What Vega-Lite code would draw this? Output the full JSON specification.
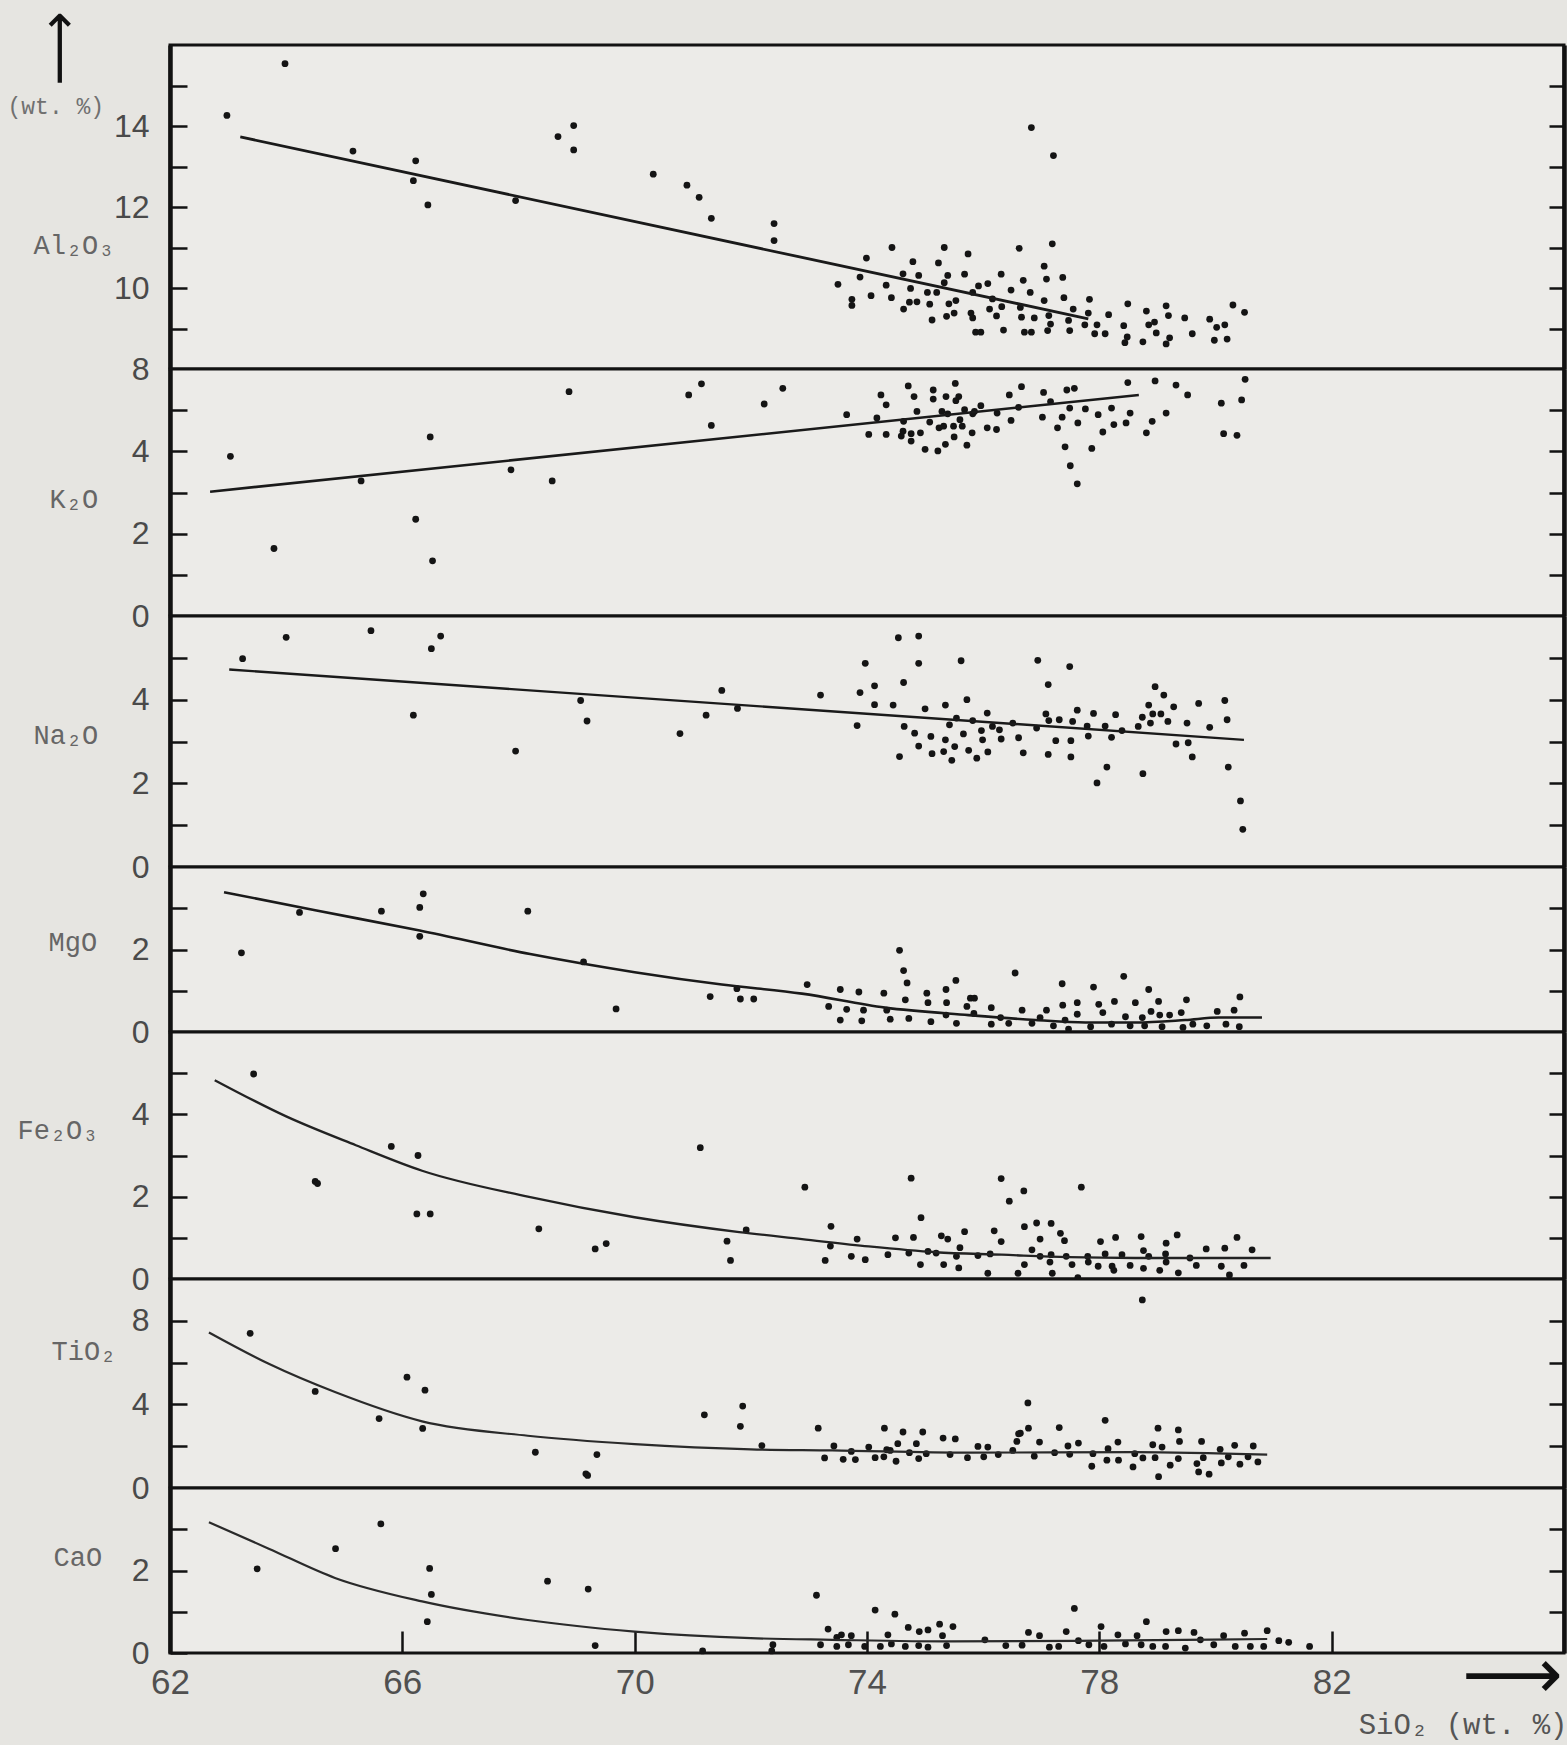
{
"$schema": "https://vega.github.io/schema/vega-lite/v6.json",
"background": "#e6e5e1",
"padding": {"left": 5, "top": 9, "right": 2, "bottom": 4},
"spacing": 0,
"bounds": "flush",
"datasets": {
"pts": [
{"ox":"Al2O3","si":62.98,"v":14.26},{"ox":"Al2O3","si":63.98,"v":15.54},{"ox":"Al2O3","si":65.15,"v":13.38},{"ox":"Al2O3","si":66.23,"v":13.14},{"ox":"Al2O3","si":66.19,"v":12.65},{"ox":"Al2O3","si":66.44,"v":12.05},{"ox":"Al2O3","si":67.95,"v":12.16},{"ox":"Al2O3","si":68.68,"v":13.74},{"ox":"Al2O3","si":68.95,"v":14.01},{"ox":"Al2O3","si":68.95,"v":13.41},{"ox":"Al2O3","si":70.32,"v":12.81},{"ox":"Al2O3","si":70.9,"v":12.54},{"ox":"Al2O3","si":71.11,"v":12.24},{"ox":"Al2O3","si":71.32,"v":11.72},{"ox":"Al2O3","si":72.4,"v":11.59},{"ox":"Al2O3","si":72.4,"v":11.17},{"ox":"Al2O3","si":76.83,"v":13.96},{"ox":"Al2O3","si":77.21,"v":13.27},
{"ox":"Al2O3","si":73.5,"v":10.09},{"ox":"Al2O3","si":73.74,"v":9.72},{"ox":"Al2O3","si":73.74,"v":9.57},{"ox":"Al2O3","si":73.88,"v":10.27},{"ox":"Al2O3","si":73.99,"v":10.74},{"ox":"Al2O3","si":74.07,"v":9.81},{"ox":"Al2O3","si":74.33,"v":10.07},{"ox":"Al2O3","si":74.42,"v":9.76},{"ox":"Al2O3","si":74.43,"v":11.0},{"ox":"Al2O3","si":74.62,"v":10.35},{"ox":"Al2O3","si":74.63,"v":9.48},{"ox":"Al2O3","si":74.73,"v":9.65},{"ox":"Al2O3","si":74.75,"v":9.99},{"ox":"Al2O3","si":74.79,"v":10.65},{"ox":"Al2O3","si":74.86,"v":9.66},{"ox":"Al2O3","si":74.89,"v":10.31},{"ox":"Al2O3","si":75.04,"v":9.89},{"ox":"Al2O3","si":75.08,"v":9.6},{"ox":"Al2O3","si":75.12,"v":9.21},{"ox":"Al2O3","si":75.2,"v":9.89},{"ox":"Al2O3","si":75.23,"v":10.62},{"ox":"Al2O3","si":75.33,"v":11.0},{"ox":"Al2O3","si":75.33,"v":10.13},{"ox":"Al2O3","si":75.37,"v":9.3},{"ox":"Al2O3","si":75.39,"v":10.31},{"ox":"Al2O3","si":75.41,"v":9.61},{"ox":"Al2O3","si":75.5,"v":9.38},{"ox":"Al2O3","si":75.53,"v":9.69},{"ox":"Al2O3","si":75.68,"v":10.34},{"ox":"Al2O3","si":75.74,"v":10.84},{"ox":"Al2O3","si":75.79,"v":9.38},{"ox":"Al2O3","si":75.82,"v":9.89},{"ox":"Al2O3","si":75.82,"v":9.26},{"ox":"Al2O3","si":75.87,"v":8.91},{"ox":"Al2O3","si":75.92,"v":10.05},{"ox":"Al2O3","si":75.96,"v":8.91},{"ox":"Al2O3","si":76.08,"v":10.11},{"ox":"Al2O3","si":76.11,"v":9.48},{"ox":"Al2O3","si":76.16,"v":9.73},{"ox":"Al2O3","si":76.23,"v":9.31},{"ox":"Al2O3","si":76.31,"v":10.34},{"ox":"Al2O3","si":76.32,"v":9.54},{"ox":"Al2O3","si":76.35,"v":8.96},{"ox":"Al2O3","si":76.48,"v":9.95},{"ox":"Al2O3","si":76.62,"v":10.98},{"ox":"Al2O3","si":76.64,"v":9.52},{"ox":"Al2O3","si":76.66,"v":9.28},{"ox":"Al2O3","si":76.69,"v":10.19},{"ox":"Al2O3","si":76.71,"v":8.91},{"ox":"Al2O3","si":76.81,"v":9.89},{"ox":"Al2O3","si":76.83,"v":8.91},{"ox":"Al2O3","si":76.88,"v":9.26},{"ox":"Al2O3","si":77.05,"v":10.54},{"ox":"Al2O3","si":77.05,"v":9.69},{"ox":"Al2O3","si":77.09,"v":10.22},{"ox":"Al2O3","si":77.11,"v":8.95},{"ox":"Al2O3","si":77.13,"v":9.32},{"ox":"Al2O3","si":77.16,"v":9.11},{"ox":"Al2O3","si":77.19,"v":11.09},{"ox":"Al2O3","si":77.37,"v":10.26},{"ox":"Al2O3","si":77.39,"v":9.76},{"ox":"Al2O3","si":77.47,"v":9.2},{"ox":"Al2O3","si":77.49,"v":8.95},{"ox":"Al2O3","si":77.55,"v":9.48},{"ox":"Al2O3","si":77.75,"v":9.09},{"ox":"Al2O3","si":77.81,"v":9.38},{"ox":"Al2O3","si":77.83,"v":9.72},{"ox":"Al2O3","si":77.92,"v":8.87},{"ox":"Al2O3","si":77.96,"v":9.09},{"ox":"Al2O3","si":78.1,"v":8.87},{"ox":"Al2O3","si":78.16,"v":9.34},{"ox":"Al2O3","si":78.42,"v":9.07},{"ox":"Al2O3","si":78.44,"v":8.65},{"ox":"Al2O3","si":78.48,"v":8.79},{"ox":"Al2O3","si":78.49,"v":9.61},{"ox":"Al2O3","si":78.75,"v":8.67},{"ox":"Al2O3","si":78.81,"v":9.43},{"ox":"Al2O3","si":78.85,"v":9.09},{"ox":"Al2O3","si":78.95,"v":9.16},{"ox":"Al2O3","si":78.98,"v":8.89},{"ox":"Al2O3","si":79.15,"v":8.62},{"ox":"Al2O3","si":79.15,"v":9.56},{"ox":"Al2O3","si":79.19,"v":9.32},{"ox":"Al2O3","si":79.21,"v":8.77},{"ox":"Al2O3","si":79.47,"v":9.26},{"ox":"Al2O3","si":79.6,"v":8.87},{"ox":"Al2O3","si":79.9,"v":9.23},{"ox":"Al2O3","si":79.98,"v":8.71},{"ox":"Al2O3","si":80.02,"v":9.03},{"ox":"Al2O3","si":80.16,"v":9.09},{"ox":"Al2O3","si":80.2,"v":8.74},{"ox":"Al2O3","si":80.3,"v":9.58},{"ox":"Al2O3","si":80.5,"v":9.4},
{"ox":"K2O","si":63.04,"v":3.88},{"ox":"K2O","si":63.79,"v":1.64},{"ox":"K2O","si":65.29,"v":3.28},{"ox":"K2O","si":66.23,"v":2.35},{"ox":"K2O","si":66.48,"v":4.35},{"ox":"K2O","si":66.52,"v":1.34},{"ox":"K2O","si":67.87,"v":3.55},{"ox":"K2O","si":68.58,"v":3.28},{"ox":"K2O","si":68.87,"v":5.45},{"ox":"K2O","si":70.93,"v":5.37},{"ox":"K2O","si":71.15,"v":5.64},{"ox":"K2O","si":71.32,"v":4.63},{"ox":"K2O","si":72.23,"v":5.15},{"ox":"K2O","si":72.55,"v":5.53},
{"ox":"K2O","si":73.65,"v":4.89},{"ox":"K2O","si":74.03,"v":4.41},{"ox":"K2O","si":74.17,"v":4.81},{"ox":"K2O","si":74.24,"v":5.37},{"ox":"K2O","si":74.33,"v":5.13},{"ox":"K2O","si":74.33,"v":4.41},{"ox":"K2O","si":74.59,"v":4.37},{"ox":"K2O","si":74.62,"v":4.49},{"ox":"K2O","si":74.63,"v":4.73},{"ox":"K2O","si":74.71,"v":5.59},{"ox":"K2O","si":74.76,"v":4.43},{"ox":"K2O","si":74.76,"v":4.25},{"ox":"K2O","si":74.81,"v":5.33},{"ox":"K2O","si":74.86,"v":4.97},{"ox":"K2O","si":74.92,"v":4.45},{"ox":"K2O","si":75.0,"v":4.05},{"ox":"K2O","si":75.08,"v":4.71},{"ox":"K2O","si":75.14,"v":5.49},{"ox":"K2O","si":75.14,"v":5.27},{"ox":"K2O","si":75.22,"v":4.01},{"ox":"K2O","si":75.24,"v":4.57},{"ox":"K2O","si":75.29,"v":4.97},{"ox":"K2O","si":75.32,"v":4.61},{"ox":"K2O","si":75.35,"v":4.17},{"ox":"K2O","si":75.36,"v":5.33},{"ox":"K2O","si":75.39,"v":4.91},{"ox":"K2O","si":75.49,"v":4.61},{"ox":"K2O","si":75.5,"v":4.35},{"ox":"K2O","si":75.52,"v":5.65},{"ox":"K2O","si":75.53,"v":5.23},{"ox":"K2O","si":75.58,"v":5.33},{"ox":"K2O","si":75.6,"v":4.77},{"ox":"K2O","si":75.64,"v":4.61},{"ox":"K2O","si":75.68,"v":5.01},{"ox":"K2O","si":75.72,"v":4.15},{"ox":"K2O","si":75.81,"v":4.45},{"ox":"K2O","si":75.82,"v":4.91},{"ox":"K2O","si":75.85,"v":4.97},{"ox":"K2O","si":75.96,"v":5.11},{"ox":"K2O","si":76.07,"v":4.57},{"ox":"K2O","si":76.23,"v":4.53},{"ox":"K2O","si":76.24,"v":4.93},{"ox":"K2O","si":76.45,"v":5.37},{"ox":"K2O","si":76.48,"v":4.75},{"ox":"K2O","si":76.61,"v":5.07},{"ox":"K2O","si":76.66,"v":5.57},{"ox":"K2O","si":77.02,"v":4.83},{"ox":"K2O","si":77.04,"v":5.43},{"ox":"K2O","si":77.16,"v":5.21},{"ox":"K2O","si":77.28,"v":4.57},{"ox":"K2O","si":77.36,"v":4.83},{"ox":"K2O","si":77.41,"v":4.11},{"ox":"K2O","si":77.44,"v":5.49},{"ox":"K2O","si":77.49,"v":5.05},{"ox":"K2O","si":77.5,"v":3.65},{"ox":"K2O","si":77.57,"v":5.53},{"ox":"K2O","si":77.62,"v":3.21},{"ox":"K2O","si":77.63,"v":4.69},{"ox":"K2O","si":77.76,"v":5.03},{"ox":"K2O","si":77.87,"v":4.07},{"ox":"K2O","si":77.98,"v":4.89},{"ox":"K2O","si":78.06,"v":4.47},{"ox":"K2O","si":78.21,"v":5.05},{"ox":"K2O","si":78.25,"v":4.65},{"ox":"K2O","si":78.46,"v":4.69},{"ox":"K2O","si":78.49,"v":5.67},{"ox":"K2O","si":78.53,"v":4.93},{"ox":"K2O","si":78.81,"v":4.45},{"ox":"K2O","si":78.91,"v":4.73},{"ox":"K2O","si":78.96,"v":5.71},{"ox":"K2O","si":79.15,"v":4.93},{"ox":"K2O","si":79.32,"v":5.61},{"ox":"K2O","si":79.52,"v":5.37},{"ox":"K2O","si":80.1,"v":5.17},{"ox":"K2O","si":80.14,"v":4.43},{"ox":"K2O","si":80.37,"v":4.39},{"ox":"K2O","si":80.45,"v":5.25},{"ox":"K2O","si":80.51,"v":5.75},
{"ox":"Na2O","si":63.25,"v":4.98},{"ox":"Na2O","si":64.0,"v":5.49},{"ox":"Na2O","si":65.46,"v":5.65},{"ox":"Na2O","si":66.19,"v":3.63},{"ox":"Na2O","si":66.5,"v":5.22},{"ox":"Na2O","si":66.66,"v":5.52},{"ox":"Na2O","si":67.95,"v":2.77},{"ox":"Na2O","si":69.07,"v":3.98},{"ox":"Na2O","si":69.18,"v":3.49},{"ox":"Na2O","si":70.78,"v":3.19},{"ox":"Na2O","si":71.23,"v":3.63},{"ox":"Na2O","si":71.5,"v":4.22},{"ox":"Na2O","si":71.77,"v":3.79},
{"ox":"Na2O","si":73.2,"v":4.11},{"ox":"Na2O","si":73.83,"v":3.38},{"ox":"Na2O","si":73.88,"v":4.17},{"ox":"Na2O","si":73.97,"v":4.87},{"ox":"Na2O","si":74.13,"v":3.88},{"ox":"Na2O","si":74.13,"v":4.33},{"ox":"Na2O","si":74.45,"v":3.87},{"ox":"Na2O","si":74.54,"v":5.48},{"ox":"Na2O","si":74.56,"v":2.64},{"ox":"Na2O","si":74.63,"v":4.41},{"ox":"Na2O","si":74.64,"v":3.36},{"ox":"Na2O","si":74.82,"v":3.2},{"ox":"Na2O","si":74.89,"v":5.52},{"ox":"Na2O","si":74.89,"v":4.87},{"ox":"Na2O","si":74.89,"v":2.89},{"ox":"Na2O","si":75.0,"v":3.78},{"ox":"Na2O","si":75.1,"v":3.12},{"ox":"Na2O","si":75.12,"v":2.71},{"ox":"Na2O","si":75.32,"v":2.76},{"ox":"Na2O","si":75.35,"v":3.87},{"ox":"Na2O","si":75.35,"v":3.04},{"ox":"Na2O","si":75.42,"v":3.4},{"ox":"Na2O","si":75.46,"v":2.55},{"ox":"Na2O","si":75.51,"v":2.88},{"ox":"Na2O","si":75.54,"v":3.56},{"ox":"Na2O","si":75.62,"v":4.93},{"ox":"Na2O","si":75.66,"v":3.18},{"ox":"Na2O","si":75.72,"v":4.0},{"ox":"Na2O","si":75.75,"v":2.79},{"ox":"Na2O","si":75.82,"v":3.5},{"ox":"Na2O","si":75.89,"v":2.6},{"ox":"Na2O","si":75.97,"v":3.26},{"ox":"Na2O","si":75.99,"v":3.04},{"ox":"Na2O","si":76.07,"v":3.68},{"ox":"Na2O","si":76.08,"v":2.75},{"ox":"Na2O","si":76.16,"v":3.36},{"ox":"Na2O","si":76.28,"v":3.28},{"ox":"Na2O","si":76.31,"v":3.06},{"ox":"Na2O","si":76.51,"v":3.44},{"ox":"Na2O","si":76.61,"v":3.09},{"ox":"Na2O","si":76.69,"v":2.73},{"ox":"Na2O","si":76.92,"v":3.32},{"ox":"Na2O","si":76.94,"v":4.94},{"ox":"Na2O","si":77.08,"v":3.66},{"ox":"Na2O","si":77.12,"v":4.36},{"ox":"Na2O","si":77.13,"v":3.5},{"ox":"Na2O","si":77.12,"v":2.69},{"ox":"Na2O","si":77.25,"v":3.02},{"ox":"Na2O","si":77.31,"v":3.52},{"ox":"Na2O","si":77.49,"v":4.79},{"ox":"Na2O","si":77.51,"v":3.02},{"ox":"Na2O","si":77.51,"v":2.63},{"ox":"Na2O","si":77.54,"v":3.48},{"ox":"Na2O","si":77.62,"v":3.75},{"ox":"Na2O","si":77.79,"v":3.37},{"ox":"Na2O","si":77.81,"v":3.13},{"ox":"Na2O","si":77.9,"v":3.67},{"ox":"Na2O","si":77.96,"v":2.01},{"ox":"Na2O","si":78.1,"v":3.37},{"ox":"Na2O","si":78.13,"v":2.39},{"ox":"Na2O","si":78.21,"v":3.1},{"ox":"Na2O","si":78.28,"v":3.64},{"ox":"Na2O","si":78.39,"v":3.26},{"ox":"Na2O","si":78.67,"v":3.36},{"ox":"Na2O","si":78.74,"v":3.58},{"ox":"Na2O","si":78.75,"v":2.23},{"ox":"Na2O","si":78.85,"v":3.87},{"ox":"Na2O","si":78.88,"v":3.44},{"ox":"Na2O","si":78.92,"v":3.66},{"ox":"Na2O","si":78.96,"v":4.31},{"ox":"Na2O","si":79.06,"v":3.66},{"ox":"Na2O","si":79.11,"v":4.11},{"ox":"Na2O","si":79.18,"v":3.48},{"ox":"Na2O","si":79.28,"v":3.83},{"ox":"Na2O","si":79.32,"v":2.94},{"ox":"Na2O","si":79.51,"v":3.44},{"ox":"Na2O","si":79.53,"v":2.97},{"ox":"Na2O","si":79.6,"v":2.63},{"ox":"Na2O","si":79.71,"v":3.91},{"ox":"Na2O","si":79.9,"v":3.34},{"ox":"Na2O","si":80.16,"v":3.98},{"ox":"Na2O","si":80.2,"v":3.52},{"ox":"Na2O","si":80.22,"v":2.39},{"ox":"Na2O","si":80.43,"v":1.58},{"ox":"Na2O","si":80.47,"v":0.9},
{"ox":"MgO","si":63.23,"v":1.92},{"ox":"MgO","si":64.23,"v":2.9},{"ox":"MgO","si":65.64,"v":2.93},{"ox":"MgO","si":66.3,"v":2.32},{"ox":"MgO","si":66.3,"v":3.02},{"ox":"MgO","si":66.36,"v":3.35},{"ox":"MgO","si":68.16,"v":2.93},{"ox":"MgO","si":69.12,"v":1.7},{"ox":"MgO","si":69.68,"v":0.56},{"ox":"MgO","si":71.3,"v":0.86},{"ox":"MgO","si":71.76,"v":1.05},{"ox":"MgO","si":71.82,"v":0.8},{"ox":"MgO","si":72.05,"v":0.8},
{"ox":"MgO","si":72.97,"v":1.15},{"ox":"MgO","si":73.34,"v":0.62},{"ox":"MgO","si":73.54,"v":1.03},{"ox":"MgO","si":73.54,"v":0.29},{"ox":"MgO","si":73.65,"v":0.55},{"ox":"MgO","si":73.86,"v":0.97},{"ox":"MgO","si":73.91,"v":0.27},{"ox":"MgO","si":73.94,"v":0.53},{"ox":"MgO","si":74.29,"v":0.94},{"ox":"MgO","si":74.34,"v":0.53},{"ox":"MgO","si":74.4,"v":0.31},{"ox":"MgO","si":74.56,"v":1.98},{"ox":"MgO","si":74.63,"v":1.49},{"ox":"MgO","si":74.66,"v":0.78},{"ox":"MgO","si":74.69,"v":1.19},{"ox":"MgO","si":74.72,"v":0.33},{"ox":"MgO","si":75.03,"v":0.94},{"ox":"MgO","si":75.05,"v":0.71},{"ox":"MgO","si":75.1,"v":0.25},{"ox":"MgO","si":75.36,"v":1.03},{"ox":"MgO","si":75.37,"v":0.71},{"ox":"MgO","si":75.36,"v":0.41},{"ox":"MgO","si":75.53,"v":1.25},{"ox":"MgO","si":75.54,"v":0.21},{"ox":"MgO","si":75.72,"v":0.62},{"ox":"MgO","si":75.78,"v":0.82},{"ox":"MgO","si":75.85,"v":0.82},{"ox":"MgO","si":75.84,"v":0.45},{"ox":"MgO","si":76.14,"v":0.59},{"ox":"MgO","si":76.14,"v":0.19},{"ox":"MgO","si":76.3,"v":0.35},{"ox":"MgO","si":76.44,"v":0.21},{"ox":"MgO","si":76.55,"v":1.43},{"ox":"MgO","si":76.67,"v":0.53},{"ox":"MgO","si":76.84,"v":0.21},{"ox":"MgO","si":76.98,"v":0.35},{"ox":"MgO","si":77.09,"v":0.53},{"ox":"MgO","si":77.21,"v":0.15},{"ox":"MgO","si":77.36,"v":1.17},{"ox":"MgO","si":77.37,"v":0.65},{"ox":"MgO","si":77.41,"v":0.29},{"ox":"MgO","si":77.47,"v":0.07},{"ox":"MgO","si":77.62,"v":0.71},{"ox":"MgO","si":77.62,"v":0.43},{"ox":"MgO","si":77.85,"v":0.13},{"ox":"MgO","si":77.9,"v":1.09},{"ox":"MgO","si":77.99,"v":0.67},{"ox":"MgO","si":78.06,"v":0.47},{"ox":"MgO","si":78.21,"v":0.19},{"ox":"MgO","si":78.26,"v":0.74},{"ox":"MgO","si":78.42,"v":1.35},{"ox":"MgO","si":78.45,"v":0.37},{"ox":"MgO","si":78.53,"v":0.15},{"ox":"MgO","si":78.62,"v":0.71},{"ox":"MgO","si":78.74,"v":0.35},{"ox":"MgO","si":78.78,"v":0.15},{"ox":"MgO","si":78.85,"v":1.03},{"ox":"MgO","si":78.89,"v":0.5},{"ox":"MgO","si":79.02,"v":0.74},{"ox":"MgO","si":79.04,"v":0.41},{"ox":"MgO","si":79.08,"v":0.13},{"ox":"MgO","si":79.21,"v":0.41},{"ox":"MgO","si":79.41,"v":0.47},{"ox":"MgO","si":79.44,"v":0.11},{"ox":"MgO","si":79.5,"v":0.78},{"ox":"MgO","si":79.61,"v":0.19},{"ox":"MgO","si":79.85,"v":0.15},{"ox":"MgO","si":80.03,"v":0.5},{"ox":"MgO","si":80.18,"v":0.19},{"ox":"MgO","si":80.32,"v":0.53},{"ox":"MgO","si":80.42,"v":0.85},{"ox":"MgO","si":80.41,"v":0.13},
{"ox":"Fe2O3","si":63.44,"v":4.98},{"ox":"Fe2O3","si":64.5,"v":2.37},{"ox":"Fe2O3","si":64.54,"v":2.32},{"ox":"Fe2O3","si":65.81,"v":3.22},{"ox":"Fe2O3","si":66.27,"v":3.0},{"ox":"Fe2O3","si":66.25,"v":1.58},{"ox":"Fe2O3","si":66.48,"v":1.58},{"ox":"Fe2O3","si":68.35,"v":1.22},{"ox":"Fe2O3","si":69.32,"v":0.73},{"ox":"Fe2O3","si":69.51,"v":0.86},{"ox":"Fe2O3","si":71.13,"v":3.19},{"ox":"Fe2O3","si":71.59,"v":0.92},{"ox":"Fe2O3","si":71.65,"v":0.45},{"ox":"Fe2O3","si":71.92,"v":1.19},
{"ox":"Fe2O3","si":72.93,"v":2.23},{"ox":"Fe2O3","si":73.28,"v":0.45},{"ox":"Fe2O3","si":73.38,"v":1.28},{"ox":"Fe2O3","si":73.37,"v":0.8},{"ox":"Fe2O3","si":73.73,"v":0.55},{"ox":"Fe2O3","si":73.83,"v":0.97},{"ox":"Fe2O3","si":73.97,"v":0.47},{"ox":"Fe2O3","si":74.36,"v":0.59},{"ox":"Fe2O3","si":74.49,"v":1.0},{"ox":"Fe2O3","si":74.72,"v":0.63},{"ox":"Fe2O3","si":74.76,"v":2.45},{"ox":"Fe2O3","si":74.8,"v":1.01},{"ox":"Fe2O3","si":74.92,"v":0.35},{"ox":"Fe2O3","si":74.93,"v":1.49},{"ox":"Fe2O3","si":75.05,"v":0.67},{"ox":"Fe2O3","si":75.19,"v":0.63},{"ox":"Fe2O3","si":75.28,"v":1.05},{"ox":"Fe2O3","si":75.32,"v":0.35},{"ox":"Fe2O3","si":75.39,"v":0.97},{"ox":"Fe2O3","si":75.54,"v":0.55},{"ox":"Fe2O3","si":75.58,"v":0.27},{"ox":"Fe2O3","si":75.6,"v":0.76},{"ox":"Fe2O3","si":75.68,"v":1.15},{"ox":"Fe2O3","si":75.91,"v":0.57},{"ox":"Fe2O3","si":76.08,"v":0.14},{"ox":"Fe2O3","si":76.12,"v":0.61},{"ox":"Fe2O3","si":76.19,"v":1.17},{"ox":"Fe2O3","si":76.31,"v":2.44},{"ox":"Fe2O3","si":76.31,"v":0.91},{"ox":"Fe2O3","si":76.45,"v":1.89},{"ox":"Fe2O3","si":76.6,"v":0.14},{"ox":"Fe2O3","si":76.7,"v":2.14},{"ox":"Fe2O3","si":76.71,"v":1.27},{"ox":"Fe2O3","si":76.71,"v":0.35},{"ox":"Fe2O3","si":76.84,"v":0.71},{"ox":"Fe2O3","si":76.92,"v":1.36},{"ox":"Fe2O3","si":76.98,"v":0.97},{"ox":"Fe2O3","si":76.98,"v":0.55},{"ox":"Fe2O3","si":77.15,"v":0.41},{"ox":"Fe2O3","si":77.17,"v":1.35},{"ox":"Fe2O3","si":77.17,"v":0.59},{"ox":"Fe2O3","si":77.19,"v":0.14},{"ox":"Fe2O3","si":77.33,"v":1.11},{"ox":"Fe2O3","si":77.4,"v":0.93},{"ox":"Fe2O3","si":77.43,"v":0.55},{"ox":"Fe2O3","si":77.53,"v":0.35},{"ox":"Fe2O3","si":77.63,"v":0.03},{"ox":"Fe2O3","si":77.69,"v":2.23},{"ox":"Fe2O3","si":77.8,"v":0.55},{"ox":"Fe2O3","si":77.81,"v":0.41},{"ox":"Fe2O3","si":77.98,"v":0.31},{"ox":"Fe2O3","si":78.02,"v":0.91},{"ox":"Fe2O3","si":78.1,"v":0.61},{"ox":"Fe2O3","si":78.22,"v":0.31},{"ox":"Fe2O3","si":78.25,"v":0.21},{"ox":"Fe2O3","si":78.28,"v":1.01},{"ox":"Fe2O3","si":78.39,"v":0.59},{"ox":"Fe2O3","si":78.53,"v":0.33},{"ox":"Fe2O3","si":78.72,"v":1.03},{"ox":"Fe2O3","si":78.76,"v":0.69},{"ox":"Fe2O3","si":78.76,"v":0.26},{"ox":"Fe2O3","si":78.85,"v":0.55},{"ox":"Fe2O3","si":79.04,"v":0.21},{"ox":"Fe2O3","si":79.14,"v":0.61},{"ox":"Fe2O3","si":79.15,"v":0.87},{"ox":"Fe2O3","si":79.15,"v":0.41},{"ox":"Fe2O3","si":79.34,"v":1.07},{"ox":"Fe2O3","si":79.36,"v":0.15},{"ox":"Fe2O3","si":79.56,"v":0.51},{"ox":"Fe2O3","si":79.67,"v":0.33},{"ox":"Fe2O3","si":79.84,"v":0.73},{"ox":"Fe2O3","si":80.1,"v":0.31},{"ox":"Fe2O3","si":80.16,"v":0.75},{"ox":"Fe2O3","si":80.24,"v":0.1},{"ox":"Fe2O3","si":80.37,"v":1.01},{"ox":"Fe2O3","si":80.49,"v":0.33},{"ox":"Fe2O3","si":80.63,"v":0.71},
{"ox":"TiO2","si":63.38,"v":7.4},{"ox":"TiO2","si":64.5,"v":4.62},{"ox":"TiO2","si":65.6,"v":3.32},{"ox":"TiO2","si":66.08,"v":5.3},{"ox":"TiO2","si":66.39,"v":4.68},{"ox":"TiO2","si":66.35,"v":2.85},{"ox":"TiO2","si":68.29,"v":1.71},{"ox":"TiO2","si":69.16,"v":0.68},{"ox":"TiO2","si":69.19,"v":0.6},{"ox":"TiO2","si":69.35,"v":1.6},{"ox":"TiO2","si":71.2,"v":3.5},{"ox":"TiO2","si":71.86,"v":3.92},{"ox":"TiO2","si":71.82,"v":2.95},{"ox":"TiO2","si":72.19,"v":2.03},
{"ox":"TiO2","si":73.16,"v":2.86},{"ox":"TiO2","si":74.3,"v":2.86},{"ox":"TiO2","si":74.62,"v":2.68},{"ox":"TiO2","si":74.96,"v":2.68},{"ox":"TiO2","si":76.64,"v":2.62},{"ox":"TiO2","si":76.77,"v":4.07},{"ox":"TiO2","si":76.78,"v":2.86},{"ox":"TiO2","si":77.31,"v":2.89},{"ox":"TiO2","si":78.1,"v":3.24},{"ox":"TiO2","si":79.01,"v":2.86},{"ox":"TiO2","si":79.36,"v":2.78},{"ox":"TiO2","si":78.74,"v":9.0},
{"ox":"TiO2","si":73.27,"v":1.44},{"ox":"TiO2","si":73.43,"v":2.01},{"ox":"TiO2","si":73.59,"v":1.37},{"ox":"TiO2","si":73.73,"v":1.75},{"ox":"TiO2","si":73.8,"v":1.36},{"ox":"TiO2","si":74.03,"v":1.96},{"ox":"TiO2","si":74.14,"v":1.45},{"ox":"TiO2","si":74.29,"v":1.49},{"ox":"TiO2","si":74.34,"v":1.83},{"ox":"TiO2","si":74.4,"v":1.8},{"ox":"TiO2","si":74.5,"v":1.28},{"ox":"TiO2","si":74.53,"v":2.12},{"ox":"TiO2","si":74.73,"v":1.69},{"ox":"TiO2","si":74.85,"v":2.12},{"ox":"TiO2","si":74.89,"v":1.41},{"ox":"TiO2","si":75.02,"v":1.64},{"ox":"TiO2","si":75.31,"v":2.39},{"ox":"TiO2","si":75.43,"v":1.6},{"ox":"TiO2","si":75.52,"v":2.35},{"ox":"TiO2","si":75.73,"v":1.45},{"ox":"TiO2","si":75.91,"v":1.99},{"ox":"TiO2","si":76.01,"v":1.49},{"ox":"TiO2","si":76.08,"v":1.96},{"ox":"TiO2","si":76.26,"v":1.6},{"ox":"TiO2","si":76.51,"v":1.8},{"ox":"TiO2","si":76.58,"v":2.23},{"ox":"TiO2","si":76.61,"v":2.59},{"ox":"TiO2","si":76.88,"v":1.52},{"ox":"TiO2","si":76.97,"v":2.2},{"ox":"TiO2","si":77.23,"v":1.69},{"ox":"TiO2","si":77.46,"v":2.01},{"ox":"TiO2","si":77.49,"v":1.61},{"ox":"TiO2","si":77.64,"v":2.15},{"ox":"TiO2","si":77.87,"v":1.04},{"ox":"TiO2","si":77.89,"v":1.64},{"ox":"TiO2","si":78.13,"v":1.33},{"ox":"TiO2","si":78.15,"v":1.88},{"ox":"TiO2","si":78.32,"v":2.2},{"ox":"TiO2","si":78.33,"v":1.33},{"ox":"TiO2","si":78.58,"v":1.01},{"ox":"TiO2","si":78.61,"v":1.64},{"ox":"TiO2","si":78.75,"v":1.44},{"ox":"TiO2","si":78.92,"v":2.07},{"ox":"TiO2","si":78.96,"v":1.45},{"ox":"TiO2","si":79.02,"v":0.54},{"ox":"TiO2","si":79.08,"v":1.96},{"ox":"TiO2","si":79.22,"v":1.09},{"ox":"TiO2","si":79.38,"v":2.23},{"ox":"TiO2","si":79.36,"v":1.41},{"ox":"TiO2","si":79.68,"v":1.17},{"ox":"TiO2","si":79.76,"v":2.23},{"ox":"TiO2","si":79.79,"v":1.45},{"ox":"TiO2","si":79.71,"v":0.77},{"ox":"TiO2","si":79.89,"v":0.66},{"ox":"TiO2","si":80.08,"v":1.85},{"ox":"TiO2","si":80.1,"v":1.2},{"ox":"TiO2","si":80.22,"v":1.49},{"ox":"TiO2","si":80.33,"v":2.04},{"ox":"TiO2","si":80.42,"v":1.14},{"ox":"TiO2","si":80.65,"v":2.01},{"ox":"TiO2","si":80.73,"v":1.25},{"ox":"TiO2","si":80.56,"v":1.49},
{"ox":"CaO","si":63.5,"v":2.04},{"ox":"CaO","si":64.85,"v":2.53},{"ox":"CaO","si":65.63,"v":3.13},{"ox":"CaO","si":66.47,"v":2.05},{"ox":"CaO","si":66.5,"v":1.42},{"ox":"CaO","si":66.43,"v":0.76},{"ox":"CaO","si":68.5,"v":1.74},{"ox":"CaO","si":69.2,"v":1.55},{"ox":"CaO","si":69.32,"v":0.18},{"ox":"CaO","si":71.17,"v":0.05},{"ox":"CaO","si":72.36,"v":0.05},{"ox":"CaO","si":72.38,"v":0.2},{"ox":"CaO","si":73.13,"v":1.4},
{"ox":"CaO","si":73.33,"v":0.58},{"ox":"CaO","si":73.2,"v":0.2},{"ox":"CaO","si":73.48,"v":0.38},{"ox":"CaO","si":73.48,"v":0.16},{"ox":"CaO","si":73.56,"v":0.44},{"ox":"CaO","si":73.68,"v":0.2},{"ox":"CaO","si":73.73,"v":0.42},{"ox":"CaO","si":73.96,"v":0.16},{"ox":"CaO","si":74.14,"v":1.04},{"ox":"CaO","si":74.23,"v":0.16},{"ox":"CaO","si":74.36,"v":0.44},{"ox":"CaO","si":74.42,"v":0.22},{"ox":"CaO","si":74.48,"v":0.94},{"ox":"CaO","si":74.66,"v":0.16},{"ox":"CaO","si":74.71,"v":0.62},{"ox":"CaO","si":74.9,"v":0.52},{"ox":"CaO","si":74.89,"v":0.18},{"ox":"CaO","si":75.05,"v":0.56},{"ox":"CaO","si":75.05,"v":0.14},{"ox":"CaO","si":75.25,"v":0.7},{"ox":"CaO","si":75.3,"v":0.42},{"ox":"CaO","si":75.37,"v":0.18},{"ox":"CaO","si":75.48,"v":0.64},{"ox":"CaO","si":76.03,"v":0.32},{"ox":"CaO","si":76.39,"v":0.18},{"ox":"CaO","si":76.67,"v":0.19},{"ox":"CaO","si":76.78,"v":0.5},{"ox":"CaO","si":76.97,"v":0.42},{"ox":"CaO","si":77.14,"v":0.14},{"ox":"CaO","si":77.3,"v":0.16},{"ox":"CaO","si":77.43,"v":0.52},{"ox":"CaO","si":77.57,"v":1.08},{"ox":"CaO","si":77.64,"v":0.3},{"ox":"CaO","si":77.82,"v":0.2},{"ox":"CaO","si":78.03,"v":0.64},{"ox":"CaO","si":78.08,"v":0.16},{"ox":"CaO","si":78.32,"v":0.44},{"ox":"CaO","si":78.45,"v":0.22},{"ox":"CaO","si":78.65,"v":0.42},{"ox":"CaO","si":78.72,"v":0.2},{"ox":"CaO","si":78.81,"v":0.76},{"ox":"CaO","si":78.92,"v":0.16},{"ox":"CaO","si":79.15,"v":0.52},{"ox":"CaO","si":79.14,"v":0.16},{"ox":"CaO","si":79.36,"v":0.54},{"ox":"CaO","si":79.48,"v":0.12},{"ox":"CaO","si":79.63,"v":0.5},{"ox":"CaO","si":79.74,"v":0.32},{"ox":"CaO","si":79.97,"v":0.2},{"ox":"CaO","si":80.14,"v":0.42},{"ox":"CaO","si":80.34,"v":0.16},{"ox":"CaO","si":80.5,"v":0.48},{"ox":"CaO","si":80.6,"v":0.16},{"ox":"CaO","si":80.83,"v":0.16},{"ox":"CaO","si":80.89,"v":0.54},{"ox":"CaO","si":81.09,"v":0.3},{"ox":"CaO","si":81.26,"v":0.26},{"ox":"CaO","si":81.62,"v":0.16}
],
"fit": [
{"ox":"Al2O3","si":63.21,"v":13.73},{"ox":"Al2O3","si":77.81,"v":9.24},
{"ox":"K2O","si":62.69,"v":3.02},{"ox":"K2O","si":78.68,"v":5.37},
{"ox":"Na2O","si":63.02,"v":4.72},{"ox":"Na2O","si":80.49,"v":3.04},
{"ox":"MgO","si":62.93,"v":3.39},{"ox":"MgO","si":64.5,"v":2.95},{"ox":"MgO","si":66.3,"v":2.46},{"ox":"MgO","si":68.2,"v":1.89},{"ox":"MgO","si":70.0,"v":1.45},{"ox":"MgO","si":71.5,"v":1.15},{"ox":"MgO","si":72.88,"v":0.93},{"ox":"MgO","si":74.31,"v":0.59},{"ox":"MgO","si":75.75,"v":0.41},{"ox":"MgO","si":76.9,"v":0.29},{"ox":"MgO","si":77.76,"v":0.23},{"ox":"MgO","si":78.62,"v":0.23},{"ox":"MgO","si":79.48,"v":0.29},{"ox":"MgO","si":80.06,"v":0.35},{"ox":"MgO","si":80.8,"v":0.35},
{"ox":"Fe2O3","si":62.77,"v":4.83},{"ox":"Fe2O3","si":64.0,"v":3.95},{"ox":"Fe2O3","si":65.2,"v":3.25},{"ox":"Fe2O3","si":66.34,"v":2.63},{"ox":"Fe2O3","si":68.16,"v":2.0},{"ox":"Fe2O3","si":70.0,"v":1.5},{"ox":"Fe2O3","si":71.8,"v":1.14},{"ox":"Fe2O3","si":72.88,"v":0.97},{"ox":"Fe2O3","si":74.03,"v":0.79},{"ox":"Fe2O3","si":75.18,"v":0.65},{"ox":"Fe2O3","si":76.32,"v":0.59},{"ox":"Fe2O3","si":77.47,"v":0.53},{"ox":"Fe2O3","si":78.62,"v":0.51},{"ox":"Fe2O3","si":80.95,"v":0.51},
{"ox":"TiO2","si":62.67,"v":7.44},{"ox":"TiO2","si":63.7,"v":5.94},{"ox":"TiO2","si":64.84,"v":4.59},{"ox":"TiO2","si":66.34,"v":3.19},{"ox":"TiO2","si":68.16,"v":2.5},{"ox":"TiO2","si":70.0,"v":2.1},{"ox":"TiO2","si":72.0,"v":1.85},{"ox":"TiO2","si":73.4,"v":1.8},{"ox":"TiO2","si":75.75,"v":1.69},{"ox":"TiO2","si":78.62,"v":1.72},{"ox":"TiO2","si":80.89,"v":1.6},
{"ox":"CaO","si":62.67,"v":3.17},{"ox":"CaO","si":63.7,"v":2.53},{"ox":"CaO","si":64.84,"v":1.82},{"ox":"CaO","si":66.34,"v":1.25},{"ox":"CaO","si":68.16,"v":0.8},{"ox":"CaO","si":70.0,"v":0.52},{"ox":"CaO","si":72.0,"v":0.36},{"ox":"CaO","si":73.4,"v":0.32},{"ox":"CaO","si":75.46,"v":0.28},{"ox":"CaO","si":78.0,"v":0.3},{"ox":"CaO","si":80.89,"v":0.34}
]
},
"vconcat": [
{"width": 1394, "height": 324,
 "layer": [
  {"data": {"name": "pts"}, "transform": [{"filter": "datum.ox == 'Al2O3'"}],
   "mark": {"type": "point", "filled": true, "size": 46, "color": "#141414", "opacity": 1},
   "encoding": {
    "x": {"field": "si", "type": "quantitative", "scale": {"domain": [62, 86], "nice": false, "zero": false},
          "axis": {"orient": "top", "ticks": false, "labels": false, "domain": false, "title": "(wt. %)", "titleX": -163, "titleY": 61, "titleAlign": "left", "titleBaseline": "middle", "titleFontSize": 23, "titleColor": "#707070"}},
    "y": {"field": "v", "type": "quantitative", "scale": {"domain": [8, 16], "nice": false, "zero": false},
          "axis": {"orient": "left", "values": [8,9,10,11,12,13,14,15], "labelExpr": "datum.value % 2 == 0 ? datum.label : ''", "title": "Al₂O₃", "titleX": -137, "titleY": 208}}
   }},
  {"data": {"name": "fit"}, "transform": [{"filter": "datum.ox == 'Al2O3'"}],
   "mark": {"type": "line", "color": "#1a1a1a", "strokeWidth": 2.8, "interpolate": "monotone"},
   "encoding": {
    "x": {"field": "si", "type": "quantitative", "scale": {"domain": [62, 86], "nice": false, "zero": false}},
    "y": {"field": "v", "type": "quantitative", "scale": {"domain": [8, 16], "nice": false, "zero": false},
          "axis": {"orient": "right", "values": [9,10,11,12,13,14,15], "title": "⟶", "titleX": -1505, "titleY": 3, "titleAngle": 270, "titleAlign": "center", "titleBaseline": "middle", "titleFont": "DejaVu Sans", "titleFontSize": 52, "titleColor": "#111111"}}
   }}
 ],
 "resolve": {"scale": {"y": "independent"}}
},
{"width": 1394, "height": 247,
 "layer": [
  {"data": {"name": "pts"}, "transform": [{"filter": "datum.ox == 'K2O'"}],
   "mark": {"type": "point", "filled": true, "size": 46, "color": "#141414", "opacity": 1},
   "encoding": {
    "x": {"field": "si", "type": "quantitative", "scale": {"domain": [62, 86], "nice": false, "zero": false}, "axis": null},
    "y": {"field": "v", "type": "quantitative", "scale": {"domain": [0, 6], "nice": false, "zero": false},
          "axis": {"orient": "left", "values": [0,1,2,3,4,5], "labelExpr": "datum.value % 2 == 0 ? datum.label : ''", "title": "K₂O", "titleX": -121, "titleY": 138}}
   }},
  {"data": {"name": "fit"}, "transform": [{"filter": "datum.ox == 'K2O'"}],
   "mark": {"type": "line", "color": "#1a1a1a", "strokeWidth": 2.6, "interpolate": "monotone"},
   "encoding": {
    "x": {"field": "si", "type": "quantitative", "scale": {"domain": [62, 86], "nice": false, "zero": false}, "axis": null},
    "y": {"field": "v", "type": "quantitative", "scale": {"domain": [0, 6], "nice": false, "zero": false},
          "axis": {"orient": "right", "values": [1,2,3,4,5], "title": null}}
   }}
 ],
 "resolve": {"scale": {"y": "independent"}}
},
{"width": 1394, "height": 251,
 "layer": [
  {"data": {"name": "pts"}, "transform": [{"filter": "datum.ox == 'Na2O'"}],
   "mark": {"type": "point", "filled": true, "size": 46, "color": "#141414", "opacity": 1},
   "encoding": {
    "x": {"field": "si", "type": "quantitative", "scale": {"domain": [62, 86], "nice": false, "zero": false}, "axis": null},
    "y": {"field": "v", "type": "quantitative", "scale": {"domain": [0, 6], "nice": false, "zero": false},
          "axis": {"orient": "left", "values": [0,1,2,3,4,5], "labelExpr": "datum.value % 2 == 0 ? datum.label : ''", "title": "Na₂O", "titleX": -137, "titleY": 127}}
   }},
  {"data": {"name": "fit"}, "transform": [{"filter": "datum.ox == 'Na2O'"}],
   "mark": {"type": "line", "color": "#1a1a1a", "strokeWidth": 2.4, "interpolate": "monotone"},
   "encoding": {
    "x": {"field": "si", "type": "quantitative", "scale": {"domain": [62, 86], "nice": false, "zero": false}, "axis": null},
    "y": {"field": "v", "type": "quantitative", "scale": {"domain": [0, 6], "nice": false, "zero": false},
          "axis": {"orient": "right", "values": [1,2,3,4,5], "title": null}}
   }}
 ],
 "resolve": {"scale": {"y": "independent"}}
},
{"width": 1394, "height": 165,
 "layer": [
  {"data": {"name": "pts"}, "transform": [{"filter": "datum.ox == 'MgO'"}],
   "mark": {"type": "point", "filled": true, "size": 46, "color": "#141414", "opacity": 1},
   "encoding": {
    "x": {"field": "si", "type": "quantitative", "scale": {"domain": [62, 86], "nice": false, "zero": false}, "axis": null},
    "y": {"field": "v", "type": "quantitative", "scale": {"domain": [0, 4], "nice": false, "zero": false},
          "axis": {"orient": "left", "values": [0,1,2,3], "labelExpr": "datum.value % 2 == 0 ? datum.label : ''", "title": "MgO", "titleX": -122, "titleY": 83}}
   }},
  {"data": {"name": "fit"}, "transform": [{"filter": "datum.ox == 'MgO'"}],
   "mark": {"type": "line", "color": "#1a1a1a", "strokeWidth": 2.6, "interpolate": "monotone"},
   "encoding": {
    "x": {"field": "si", "type": "quantitative", "scale": {"domain": [62, 86], "nice": false, "zero": false}, "axis": null},
    "y": {"field": "v", "type": "quantitative", "scale": {"domain": [0, 4], "nice": false, "zero": false},
          "axis": {"orient": "right", "values": [1,2,3], "title": null}}
   }}
 ],
 "resolve": {"scale": {"y": "independent"}}
},
{"width": 1394, "height": 247,
 "layer": [
  {"data": {"name": "pts"}, "transform": [{"filter": "datum.ox == 'Fe2O3'"}],
   "mark": {"type": "point", "filled": true, "size": 46, "color": "#141414", "opacity": 1},
   "encoding": {
    "x": {"field": "si", "type": "quantitative", "scale": {"domain": [62, 86], "nice": false, "zero": false}, "axis": null},
    "y": {"field": "v", "type": "quantitative", "scale": {"domain": [0, 6], "nice": false, "zero": false},
          "axis": {"orient": "left", "values": [0,1,2,3,4,5], "labelExpr": "datum.value % 2 == 0 ? datum.label : ''", "title": "Fe₂O₃", "titleX": -153, "titleY": 106}}
   }},
  {"data": {"name": "fit"}, "transform": [{"filter": "datum.ox == 'Fe2O3'"}],
   "mark": {"type": "line", "color": "#222222", "strokeWidth": 2.3, "interpolate": "monotone"},
   "encoding": {
    "x": {"field": "si", "type": "quantitative", "scale": {"domain": [62, 86], "nice": false, "zero": false}, "axis": null},
    "y": {"field": "v", "type": "quantitative", "scale": {"domain": [0, 6], "nice": false, "zero": false},
          "axis": {"orient": "right", "values": [1,2,3,4,5], "title": null}}
   }}
 ],
 "resolve": {"scale": {"y": "independent"}}
},
{"width": 1394, "height": 209,
 "layer": [
  {"data": {"name": "pts"}, "transform": [{"filter": "datum.ox == 'TiO2'"}],
   "mark": {"type": "point", "filled": true, "size": 46, "color": "#141414", "opacity": 1},
   "encoding": {
    "x": {"field": "si", "type": "quantitative", "scale": {"domain": [62, 86], "nice": false, "zero": false}, "axis": null},
    "y": {"field": "v", "type": "quantitative", "scale": {"domain": [0, 10], "nice": false, "zero": false},
          "axis": {"orient": "left", "values": [0,2,4,6,8], "labelExpr": "datum.value % 4 == 0 ? datum.label : ''", "title": "TiO₂", "titleX": -119, "titleY": 80}}
   }},
  {"data": {"name": "fit"}, "transform": [{"filter": "datum.ox == 'TiO2'"}],
   "mark": {"type": "line", "color": "#2a2a2a", "strokeWidth": 2.2, "interpolate": "monotone"},
   "encoding": {
    "x": {"field": "si", "type": "quantitative", "scale": {"domain": [62, 86], "nice": false, "zero": false}, "axis": null},
    "y": {"field": "v", "type": "quantitative", "scale": {"domain": [0, 10], "nice": false, "zero": false},
          "axis": {"orient": "right", "values": [2,4,6,8], "title": null}}
   }}
 ],
 "resolve": {"scale": {"y": "independent"}}
},
{"width": 1394, "height": 165,
 "layer": [
  {"data": {"name": "pts"}, "transform": [{"filter": "datum.ox == 'CaO'"}],
   "mark": {"type": "point", "filled": true, "size": 46, "color": "#141414", "opacity": 1},
   "encoding": {
    "x": {"field": "si", "type": "quantitative", "scale": {"domain": [62, 86], "nice": false, "zero": false},
          "axis": {"orient": "bottom", "values": [62,66,70,74,78,82], "format": "d", "tickSize": -22, "labelPadding": 34, "labelFontSize": 35, "labelColor": "#505050", "domain": false, "title": "SiO₂ (wt. %)", "titleX": 1397, "titleY": 80, "titleAlign": "right", "titleBaseline": "alphabetic", "titleFontSize": 29, "titleColor": "#555555"}},
    "y": {"field": "v", "type": "quantitative", "scale": {"domain": [0, 4], "nice": false, "zero": false},
          "axis": {"orient": "left", "values": [0,1,2,3], "labelExpr": "datum.value % 2 == 0 ? datum.label : ''", "title": "CaO", "titleX": -117, "titleY": 77}}
   }},
  {"data": {"name": "fit"}, "transform": [{"filter": "datum.ox == 'CaO'"}],
   "mark": {"type": "line", "color": "#2a2a2a", "strokeWidth": 2.2, "interpolate": "monotone"},
   "encoding": {
    "x": {"field": "si", "type": "quantitative", "scale": {"domain": [62, 86], "nice": false, "zero": false}},
    "y": {"field": "v", "type": "quantitative", "scale": {"domain": [0, 4], "nice": false, "zero": false},
          "axis": {"orient": "right", "values": [1,2,3], "title": "⟶", "titleX": -2, "titleY": 188, "titleAngle": 0, "titleAlign": "right", "titleBaseline": "middle", "titleFont": "DejaVu Sans", "titleFontSize": 70, "titleColor": "#111111"}}
   }}
 ],
 "resolve": {"scale": {"y": "independent"}}
}
],
"config": {
 "view": {"stroke": "#121212", "strokeWidth": 3, "fill": "#ecebe8"},
 "axis": {"grid": false, "labelFlush": false, "labelOverlap": false, "domainColor": "#121212", "domainWidth": 4.5, "tickColor": "#121212", "tickWidth": 2.5, "labelFont": "Liberation Sans", "labelFontSize": 32, "labelColor": "#4a4a4a", "titleFont": "Liberation Mono", "titleFontSize": 27, "titleColor": "#666666", "titleFontWeight": "normal", "titlePadding": 0},
 "axisLeft": {"tickSize": -17, "labelPadding": 38, "titleAlign": "left", "titleBaseline": "alphabetic", "titleAngle": 0},
 "axisRight": {"tickSize": -15, "labels": false},
 "axisTop": {"titleAngle": 0},
 "axisBottom": {"titleAngle": 0}
}
}
